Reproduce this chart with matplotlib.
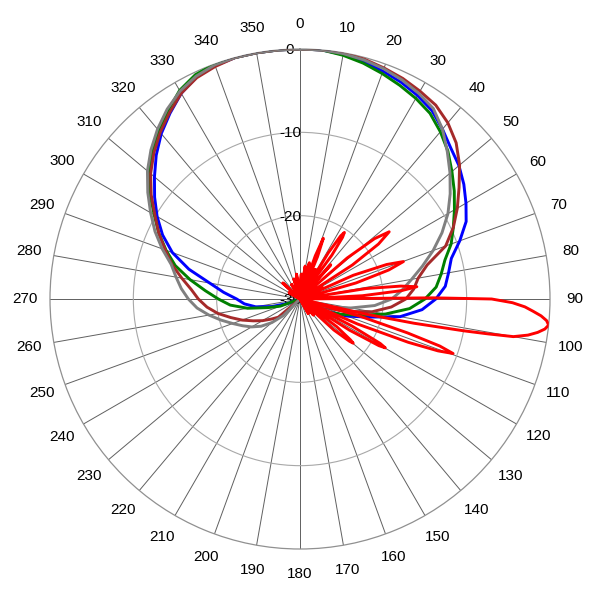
import numpy as np
import matplotlib
matplotlib.use("Agg")
import matplotlib.pyplot as plt

plt.rcParams['font.family'] = ['Liberation Sans', 'DejaVu Sans']

# ---- data (angle in degrees, clockwise from top; level in dB) ----
angles_deg = list(range(0, 360, 5))

blue_db = [0, 0, -0.2, -0.5, -0.9, -1.3, -1.8, -2.4, -3.4, -4.4, -5.1, -6.0,
           -7.0, -8.0, -9.6, -11.2, -11.9, -12.5, -13.7, -15.3, -17.8, -21.6, -24.0, -26.5,
           -28.5, -30, -30, -30, -30, -30, -30, -30, -30, -30, -30, -30,
           -30, -30, -30, -30, -30, -30, -30, -30, -30, -30, -30, -30,
           -30, -30, -28.5, -26.5, -24.6, -23.3, -22.4, -20.8, -19.0, -16.2, -13.7, -11.8,
           -10.2, -8.7, -7.2, -5.6, -4.1, -2.8, -1.5, -0.6, -0.2, 0, 0, 0]

green_db = [0, 0, -0.3, -0.7, -1.2, -1.7, -2.2, -2.8, -3.8, -4.9, -6.2, -7.4,
            -8.6, -9.7, -10.7, -12.0, -12.8, -13.6, -15.0, -16.8, -19.6, -22.5, -24.6, -26.2,
            -28.0, -30, -30, -30, -30, -30, -30, -30, -30, -30, -30, -30,
            -30, -30, -30, -30, -30, -30, -30, -30, -30, -30, -30, -30,
            -30, -30, -27.5, -26.0, -23.6, -21.6, -20.2, -18.6, -16.6, -14.5, -12.9, -11.3,
            -9.8, -8.0, -6.4, -4.9, -3.7, -2.4, -1.1, -0.3, 0, 0, 0, 0]

brown_db = [0, 0, 0, -0.2, -0.5, -0.8, -1.2, -1.6, -2.4, -3.5, -5.0, -6.7,
            -8.2, -9.7, -11.4, -14.2, -15.6, -16.3, -17.3, -19.0, -21.2, -24.2, -27.0, -30,
            -30, -30, -30, -30, -30, -30, -30, -30, -30, -30, -30, -30,
            -30, -30, -30, -30, -30, -30, -30, -30, -30, -30, -26.6, -25.8,
            -24.8, -23.8, -22.6, -21.4, -20.0, -18.8, -17.8, -16.9, -15.6, -14.1, -12.8, -11.3,
            -9.9, -8.2, -6.6, -5.2, -3.9, -2.7, -1.5, -0.7, -0.3, 0, 0, 0]

gray_db = [0, 0, -0.1, -0.3, -0.6, -1.0, -1.5, -2.1, -3.4, -5.0, -6.5, -8.0,
           -9.5, -11.2, -13.0, -14.8, -16.4, -17.7, -19.0, -21.0, -23.8, -26.3, -28.5, -30,
           -30, -30, -30, -30, -30, -30, -30, -30, -30, -30, -30, -30,
           -30, -30, -30, -30, -30, -30, -30, -30, -30, -27.2, -25.6, -24.3,
           -23.3, -22.4, -21.4, -20.2, -18.9, -17.6, -16.6, -15.7, -14.9, -14.0, -12.4, -10.8,
           -9.3, -7.7, -6.1, -4.7, -3.4, -2.2, -1.2, -0.5, -0.1, 0, 0, 0]

red_deg = [0, 3, 6, 9, 12, 14.5, 17.5, 19.5, 21, 22.5, 25, 27.3, 29.5,
           31.5, 32.8, 33.7, 34.6, 36, 38.5, 42, 46,
           49, 51, 53, 55, 57, 60, 61.5, 63,
           66, 68.3, 70.1, 71.9, 74, 77, 77.8, 78.5,
           81, 82.7, 84, 85.3, 87, 89,
           89.5, 90, 91, 92, 93, 94, 95, 96, 97, 98, 99, 100, 100.5, 101, 102, 103, 104,
           106, 107.5, 108.6, 109.6, 110.6, 111.8, 113.5, 115.5,
           117.5, 119, 119.8, 120.6, 122.2, 124.5,
           127, 129, 129.7, 130.5, 132.5, 135,
           140, 145, 150, 155, 290, 300, 305, 313, 320, 330, 336, 343, 348, 352, 356, 360]
red_db = [-29, -27, -29.5, -26, -29, -25.5, -30, -24.5, -22.2, -24.5, -30, -26, -30,
          -23.5, -21, -20.4, -21, -23.5, -30, -24.5, -30,
          -22.5, -18.5, -16.6, -18.5, -22.5, -30, -27, -30,
          -23, -18.8, -16.8, -18.8, -23, -30, -28, -30,
          -22, -17.8, -15.9, -17.8, -22.5, -30,
          -14, -7, -4.5, -3.0, -2.0, -1.0, -0.3, 0, -0.4, -1.2, -2.3, -4.0, -7, -10, -16, -22, -30,
          -22.5, -16.5, -12.3, -10.5, -12.3, -16, -22.5, -30,
          -23, -19, -18.2, -19, -23, -30,
          -24.5, -22.2, -21.7, -22.2, -24.5, -30,
          -27.5, -30, -28, -30, -30, -28.5, -30, -27.2, -30, -28, -30, -27.5, -30, -27, -30, -29]

series = [("blue", blue_db), ("green", green_db), ("brown", brown_db), ("gray", gray_db)]
colors = {"blue": "#0000ff", "green": "#008000", "brown": "#a52a2a", "gray": "#808080"}

theta_labels = [str(a) for a in range(0, 360, 10)]
r_ticks = [0, -10, -20, -30]
r_labels = ["0", "-10", "-20", "-30"]

# ---- plot ----
fig = plt.figure(figsize=(6, 6), dpi=100)
ax = fig.add_axes([50/600, 51/600, 500/600, 500/600], projection='polar')
ax.set_theta_zero_location('N')
ax.set_theta_direction(-1)
ax.set_rlim(-30, 0)

ang = np.deg2rad(np.append(angles_deg, 360))
for name, vals in series:
    v = np.append(vals, vals[0])
    ax.plot(ang, v, color=colors[name], lw=2.1, solid_joinstyle='round', zorder=3)
ax.plot(np.deg2rad(red_deg), red_db, color="#ff0000", lw=2.1, solid_joinstyle='round', zorder=4)

ax.set_thetagrids(range(0, 360, 10), theta_labels, fontsize=11)
ax.tick_params(axis='x', pad=7.5, colors='black')
ax.set_rticks([-20, -10])
ax.set_yticklabels([])
ax.xaxis.grid(True, color='#606060', lw=0.7)
ax.yaxis.grid(True, color='#a8a8a8', lw=0.8)
ax.spines['polar'].set_color('#909090')
ax.spines['polar'].set_linewidth(0.9)

for rv, lab in zip(r_ticks, r_labels):
    ax.annotate(lab, xy=(0, rv), xytext=(-10, -1), textcoords='offset pixels',
                ha='center', va='center', fontsize=11, color='black', zorder=2)

fig.savefig("out.png", dpi=100)
